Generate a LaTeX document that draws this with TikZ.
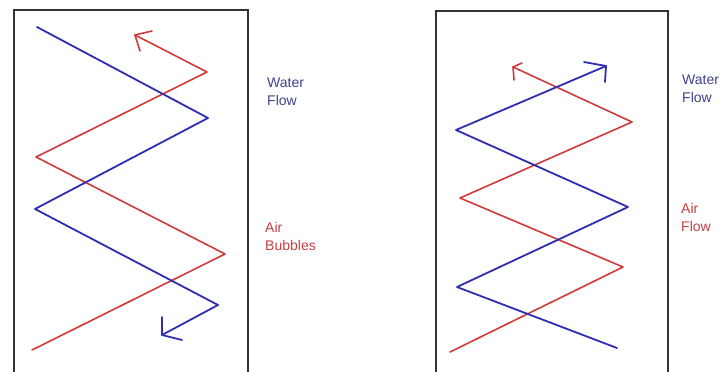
\documentclass[tikz,border=0pt]{standalone}
\usepackage{fontspec}
\setmainfont{Liberation Sans}
\definecolor{wblue}{HTML}{2E2EB4}
\definecolor{ared}{HTML}{D23A3A}
\definecolor{tblue}{HTML}{404090}
\definecolor{tred}{HTML}{C84040}
\begin{document}
\begin{tikzpicture}[x=1pt,y=-1pt,
  boxline/.style={draw=black!80,line width=2pt},
  bluepipe/.style={draw=wblue,line width=1.8pt,line join=round,line cap=round},
  redpipe/.style={draw=ared,line width=1.6pt,line join=round,line cap=round},
  lbl/.style={anchor=base west,inner sep=0pt,align=left,font=\fontsize{14}{18}\selectfont}]
\useasboundingbox (0,0) rectangle (723,372);
\clip (0,0) rectangle (723,372);
\fill[white] (0,0) rectangle (723,372);
% boxes
\draw[boxline] (14,10) rectangle (248,390);
\draw[boxline] (436,11) rectangle (668,390);
% left panel coordinates
\coordinate (lb0) at (37,27);
\coordinate (lb1) at (208,118);
\coordinate (lb2) at (35,209);
\coordinate (lb3) at (218,305);
\coordinate (lb4) at (162,335);
\coordinate (lb4a) at (162,317);
\coordinate (lb4b) at (182,340);
\coordinate (lr0) at (32,350);
\coordinate (lr1) at (225,254);
\coordinate (lr2) at (36,157);
\coordinate (lr3) at (207,72);
\coordinate (lr4) at (135,35);
\coordinate (lr4a) at (152,31);
\coordinate (lr4b) at (140,51);
\draw[redpipe] (lr0) -- (lr1) -- (lr2) -- (lr3) -- (lr4);
\draw[redpipe] (lr4a) -- (lr4) -- (lr4b);
\draw[bluepipe] (lb0) -- (lb1) -- (lb2) -- (lb3) -- (lb4);
\draw[bluepipe] (lb4a) -- (lb4) -- (lb4b);
% right panel coordinates
\coordinate (rb0) at (617,348);
\coordinate (rb1) at (457,287);
\coordinate (rb2) at (628,207);
\coordinate (rb3) at (456,130);
\coordinate (rb4) at (606,66);
\coordinate (rb4a) at (584,62);
\coordinate (rb4b) at (605,82);
\coordinate (rr0) at (450,352);
\coordinate (rr1) at (623,267);
\coordinate (rr2) at (460,198);
\coordinate (rr3) at (632,122);
\coordinate (rr4) at (513,67);
\coordinate (rr4a) at (522,63);
\coordinate (rr4b) at (514,80);
\draw[redpipe] (rr0) -- (rr1) -- (rr2) -- (rr3) -- (rr4);
\draw[redpipe] (rr4a) -- (rr4) -- (rr4b);
\draw[bluepipe] (rb0) -- (rb1) -- (rb2) -- (rb3) -- (rb4);
\draw[bluepipe] (rb4a) -- (rb4) -- (rb4b);
% labels
\node[lbl,text=tblue] (lwater) at (267,105) {Water\\Flow};
\node[lbl,text=tred] (lair) at (265,250) {Air\\Bubbles};
\node[lbl,text=tblue] (rwater) at (682,102) {Water\\Flow};
\node[lbl,text=tred] (rair) at (681,231) {Air\\Flow};
\end{tikzpicture}
\end{document}
